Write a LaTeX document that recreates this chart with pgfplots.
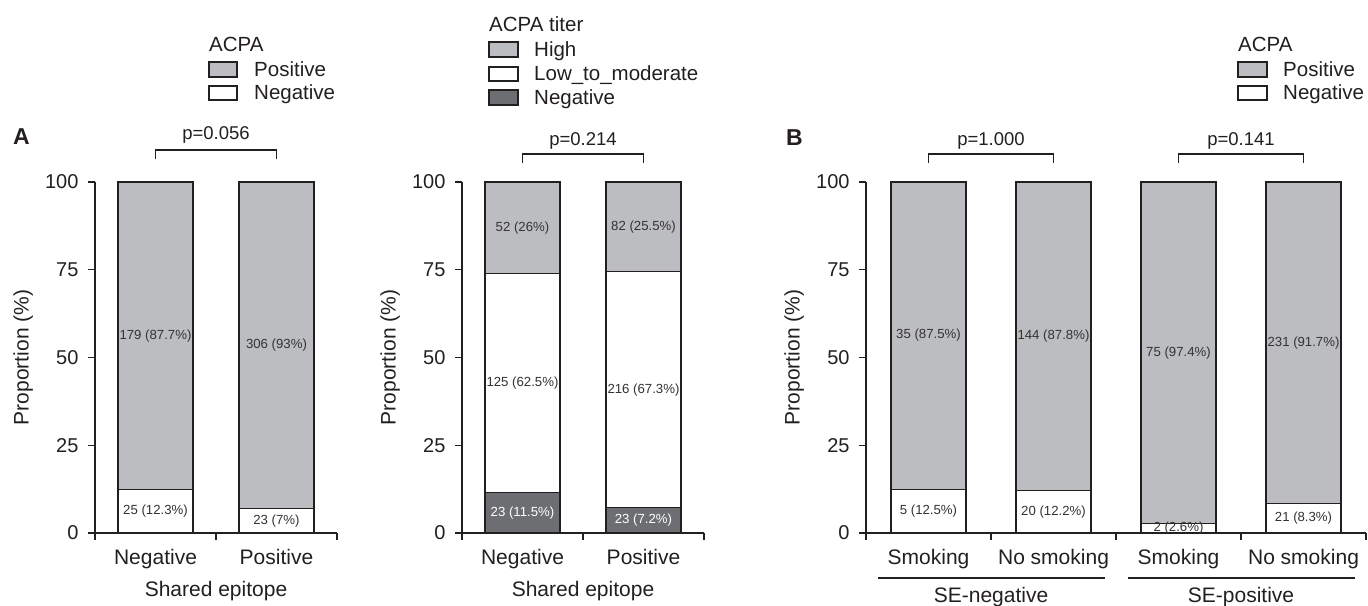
\documentclass[border=0pt]{standalone}
\usepackage{fontspec}
\setmainfont{Liberation Sans}
\usepackage{pgfplots}
\pgfplotsset{compat=1.18}
\definecolor{lg}{RGB}{188,189,192}
\definecolor{dg}{RGB}{109,110,113}
\definecolor{ink}{RGB}{35,31,32}
\definecolor{lab}{RGB}{51,51,51}
\newcommand{\fs}[1]{\fontsize{#1bp}{#1bp}\selectfont}
\pgfplotsset{
  panel/.style={
    scale only axis, anchor=south west, height=351bp,
    ymin=0, ymax=100, clip=false,
    axis x line*=bottom, axis y line*=left,
    axis line style={draw=ink, line width=1.2bp},
    tick style={draw=ink, line width=1.2bp},
    tick align=outside, major tick length=7bp,
    ytick={0,25,50,75,100},
    xticklabels={},
    extra x tick style={major tick length=0pt, tick style={draw=none}},
    /pgf/number format/assume math mode=true,
    tick label style={font=\fs{20}, text=ink},
    yticklabel style={xshift=-6bp},
    extra x tick style={tick label style={font=\fs{21}, text=ink, yshift=-13bp}},
    ylabel={Proportion (\%)},
    ylabel style={anchor=base, inner sep=0pt, font=\fs{21}, text=ink},
    xlabel style={anchor=base, inner sep=0pt, font=\fs{21}, text=ink},
  },
  lbl/.style={draw=none, mark=none, point meta=explicit symbolic,
    nodes near coords={\pgfplotspointmeta},
    every node near coord/.append style={anchor=center, font=\fs{13.2}, text=#1, inner sep=0pt}},
  seg/.style={ybar, bar width=75bp, bar shift=0pt, draw=ink, line width=1.2bp, fill=#1},
}
\begin{document}
\begin{tikzpicture}[x=1bp,y=1bp]
\path[use as bounding box] (0,0) rectangle (1368,606);

% Panel A left
\begin{axis}[panel, at={(95bp,73bp)}, width=242bp, xmin=0, xmax=2,
  xtick={0,1,2}, extra x ticks={0.5,1.5}, extra x tick labels={Negative,Positive},
  xlabel={Shared epitope},
  xlabel style={at={(axis description cs:0.5,-0.1795)}},
  ylabel style={at={(axis description cs:-0.2744,0.5)}}]
\addplot[seg=lg] coordinates {(0.5,100) (1.5,100)};
\addplot[seg=white] coordinates {(0.5,12.3) (1.5,7)};
\addplot[lbl=lab] coordinates {(0.5,56.15) [179 (87.7\%)] (1.5,53.5) [306 (93\%)] (0.5,6.15) [25 (12.3\%)] (1.5,3.5) [23 (7\%)]};
\draw[ink, line width=1.2bp] (axis cs:0.5,106.6) -- (axis cs:0.5,109.1) -- (axis cs:1.5,109.1) -- (axis cs:1.5,106.6);
\node[anchor=base, inner sep=0pt, font=\fs{18.5}, text=ink] at (axis cs:1,112) {p=0.056};
\end{axis}

% Panel A right
\begin{axis}[panel, at={(462bp,73bp)}, width=242bp, xmin=0, xmax=2,
  xtick={0,1,2}, extra x ticks={0.5,1.5}, extra x tick labels={Negative,Positive},
  xlabel={Shared epitope},
  xlabel style={at={(axis description cs:0.5,-0.1795)}},
  ylabel style={at={(axis description cs:-0.2744,0.5)}}]
\addplot[seg=lg] coordinates {(0.5,100) (1.5,100)};
\addplot[seg=white] coordinates {(0.5,74) (1.5,74.5)};
\addplot[seg=dg] coordinates {(0.5,11.5) (1.5,7.2)};
\addplot[lbl=lab] coordinates {(0.5,87) [52 (26\%)] (1.5,87.25) [82 (25.5\%)] (0.5,42.75) [125 (62.5\%)] (1.5,40.85) [216 (67.3\%)]};
\addplot[lbl=white] coordinates {(0.5,5.75) [23 (11.5\%)] (1.5,3.6) [23 (7.2\%)]};
\draw[ink, line width=1.2bp] (axis cs:0.5,105.4) -- (axis cs:0.5,108) -- (axis cs:1.5,108) -- (axis cs:1.5,105.4);
\node[anchor=base, inner sep=0pt, font=\fs{18.5}, text=ink] at (axis cs:1,110.3) {p=0.214};
\end{axis}

% Panel B
\begin{axis}[panel, at={(866bp,73bp)}, width=500bp, xmin=0, xmax=4,
  xtick={0,1,2,3,4}, extra x ticks={0.5,1.5,2.5,3.5}, extra x tick labels={Smoking,No smoking,Smoking,No smoking},
  ylabel style={at={(axis description cs:-0.1328,0.5)}}]
\addplot[seg=lg] coordinates {(0.5,100) (1.5,100) (2.5,100) (3.5,100)};
\addplot[seg=white] coordinates {(0.5,12.5) (1.5,12.2) (2.5,2.6) (3.5,8.3)};
\addplot[lbl=lab] coordinates {(0.5,56.25) [35 (87.5\%)] (1.5,56.1) [144 (87.8\%)] (2.5,51.3) [75 (97.4\%)] (3.5,54.15) [231 (91.7\%)] (0.5,6.25) [5 (12.5\%)] (1.5,6.1) [20 (12.2\%)] (2.5,1.3) [2 (2.6\%)] (3.5,4.15) [21 (8.3\%)]};
\draw[ink, line width=1.2bp] (axis cs:0.5,105.4) -- (axis cs:0.5,108) -- (axis cs:1.5,108) -- (axis cs:1.5,105.4);
\node[anchor=base, inner sep=0pt, font=\fs{18.5}, text=ink] at (axis cs:1,110.3) {p=1.000};
\draw[ink, line width=1.2bp] (axis cs:2.5,105.4) -- (axis cs:2.5,108) -- (axis cs:3.5,108) -- (axis cs:3.5,105.4);
\node[anchor=base, inner sep=0pt, font=\fs{18.5}, text=ink] at (axis cs:3,110.3) {p=0.141};
\draw[ink, line width=1.3bp] (axis cs:0.096,-12.82) -- (axis cs:1.912,-12.82);
\draw[ink, line width=1.3bp] (axis cs:2.096,-12.82) -- (axis cs:3.912,-12.82);
\node[anchor=base, inner sep=0pt, font=\fs{21}, text=ink] at (axis cs:1,-19.94) {SE-negative};
\node[anchor=base, inner sep=0pt, font=\fs{21}, text=ink] at (axis cs:3,-19.94) {SE-positive};
\end{axis}

% Panel letters
\node[anchor=base west, inner sep=0pt, font=\fs{23}\bfseries, text=ink] at (13,461) {A};
\node[anchor=base west, inner sep=0pt, font=\fs{23}\bfseries, text=ink] at (786,460) {B};

% Legends
\begin{scope}[every node/.style={anchor=base west, inner sep=0pt, font=\fs{20.5}, text=ink}]
\node at (209,554) {ACPA};
\draw[ink, line width=1.1bp, fill=lg] (209,529) rectangle (237,544);
\node at (254,529) {Positive};
\draw[ink, line width=1.1bp, fill=white] (209,506) rectangle (237,520);
\node at (254,506) {Negative};
\node at (489,574) {ACPA titer};
\draw[ink, line width=1.1bp, fill=lg] (489,549) rectangle (518,564);
\node at (534,549) {High};
\draw[ink, line width=1.1bp, fill=white] (489,525) rectangle (518,539);
\node at (534,525) {Low\_to\_moderate};
\draw[ink, line width=1.1bp, fill=dg] (489,501) rectangle (518,516);
\node at (534,501) {Negative};
\node at (1238,554) {ACPA};
\draw[ink, line width=1.1bp, fill=lg] (1238,529) rectangle (1267,544);
\node at (1283,529) {Positive};
\draw[ink, line width=1.1bp, fill=white] (1238,506) rectangle (1267,520);
\node at (1283,506) {Negative};
\end{scope}
\end{tikzpicture}
\end{document}
